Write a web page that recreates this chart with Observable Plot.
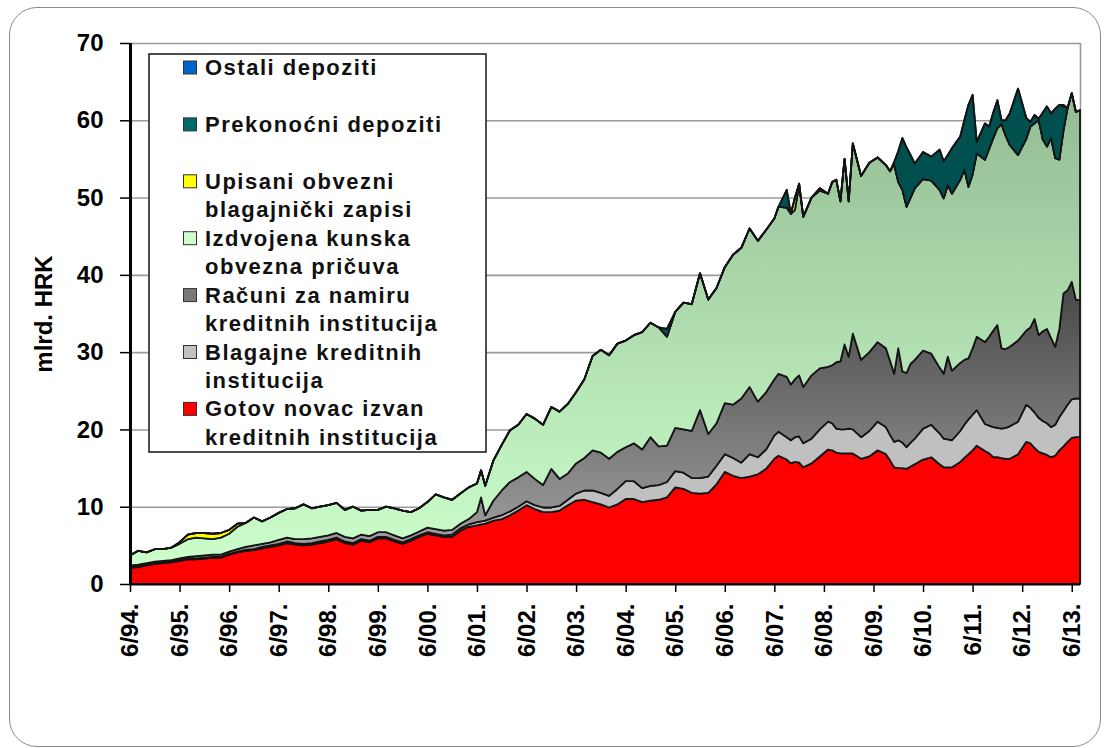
<!DOCTYPE html>
<html><head><meta charset="utf-8">
<script src="https://cdn.jsdelivr.net/npm/d3@7"></script>
<script src="https://cdn.jsdelivr.net/npm/@observablehq/plot@0.6"></script>
<style>
body{margin:0;background:#fff;}
#wrap{position:relative;width:1104px;height:748px;overflow:hidden;background:#fff;}
#frame{position:absolute;left:9px;top:7px;width:1092px;height:740px;border:1.5px solid #8a8a8a;border-radius:28px;box-sizing:border-box;}
#chart{position:absolute;left:0;top:0;}
</style></head><body>
<div id="wrap"><div id="frame"></div><div id="chart"></div></div>
<script>
// month index: 0 = 6/1994
const months = [0,2,4,6,8,10,12,14,16,18,20,22,24,26,28,30,32,34,36,38,40,42,44,46,48,50,52,54,56,58,60,62,64,66,68,70,72,74,76,78,80,82,84,85,86,88,90,92,94,96,98,100,102,104,106,108,110,112,114,116,118,120,122,124,126,128,130,132,134,136,138,140,142,144,146,148,150,152,154,156,157,159,160,161,162,163,165,167,169,170,171,172,173,174,175,177,179,181,183,184,185,186,187,188,189,190,192,194,196,197,198,199,201,202,203,204,205,207,208,209,210,211,212,213,215,217,218,219,220,221,222,223,224,225,226,227,228,229,230];

const gotovNovac = [2.1,2.2,2.4,2.6,2.7,2.8,3.0,3.2,3.2,3.3,3.4,3.4,3.8,4.1,4.3,4.4,4.6,4.8,5.0,5.3,5.1,5.0,5.1,5.3,5.5,5.8,5.3,5.1,5.6,5.4,5.9,5.9,5.5,5.2,5.6,6.1,6.5,6.3,6.1,6.1,6.9,7.4,7.6,
7.7,
7.8,8.2,8.4,8.9,9.5,10.2,9.7,9.3,9.3,9.5,10.2,10.8,10.9,10.6,10.3,9.9,10.3,11.0,11.0,10.6,10.8,10.9,11.2,12.5,12.3,11.8,11.7,11.8,12.9,14.5,14.0,13.7,13.9,14.2,14.9,16.2,
16.6,16.1,15.6,15.8,15.7,15.1,15.6,16.5,17.4,17.3,17.0,16.9,16.9,16.9,16.9,16.2,16.5,17.3,16.8,16.0,15.1,15.0,15.0,14.9,15.2,15.5,
16.1,16.4,15.5,15.1,15.1,15.1,15.8,16.3,16.8,17.3,17.9,17.2,16.9,16.4,16.4,16.3,16.2,16.2,16.8,18.4,18.2,17.6,17.1,16.9,16.7,16.4,16.6,17.3,17.8,18.4,18.9,19.0,19.0];

const blagajne = [0.1,0.1,0.1,0.1,0.1,0.1,0.1,0.1,0.1,0.1,0.1,0.1,0.1,0.1,0.1,0.1,
0.2,0.2,0.2,0.2,0.2,0.2,0.2,0.2,0.2,0.2,0.2,0.2,0.2,0.2,0.2,0.2,0.2,0.2,0.2,0.2,0.2,0.2,0.2,
0.3,0.3,0.3,0.4,
0.4,
0.4,0.4,0.5,0.5,0.5,0.5,0.5,0.6,0.6,0.6,0.7,0.9,1.2,1.5,1.5,1.5,2.0,2.3,2.3,1.8,1.9,1.9,2.0,2.1,2.1,1.9,2.0,2.1,2.4,2.3,2.3,2.0,2.9,2.2,2.5,3.0,
3.1,2.9,3.0,3.2,3.4,3.1,3.2,3.5,3.6,3.5,3.1,3.1,3.1,3.2,3.1,2.8,3.3,3.7,3.5,3.3,3.3,3.6,3.3,2.8,3.1,3.3,
4.0,4.2,4.0,3.7,3.6,3.5,4.0,4.3,4.5,4.6,4.6,3.5,3.6,3.9,3.8,3.8,4.0,4.2,4.2,4.8,4.6,4.6,4.4,4.2,4.1,3.9,4.0,4.3,4.6,4.8,5.0,5.0,5.0];

const racuniZaNamiru = [0.2,0.2,0.2,0.2,0.2,0.2,0.2,0.2,0.3,0.3,0.3,0.3,0.3,0.3,0.4,0.5,0.4,0.4,0.5,0.5,0.5,0.6,0.6,0.6,0.6,0.6,0.6,0.6,0.6,0.6,0.6,0.6,0.6,0.5,0.5,0.5,0.6,0.6,0.6,0.6,0.6,0.7,1.3,
3.1,
0.7,2.2,3.2,3.8,3.8,3.8,3.4,2.9,5.0,3.5,3.4,3.9,4.2,5.2,5.2,4.8,4.8,4.4,4.9,5.0,6.3,5.0,4.7,5.6,5.6,6.1,8.8,5.5,5.5,6.6,6.9,8.3,8.7,7.2,7.4,7.3,
7.5,7.8,7.2,7.5,7.9,7.3,8.2,7.9,7.1,7.5,8.6,8.8,11.0,9.3,12.4,10.0,10.2,10.3,10.2,9.6,8.8,11.9,9.2,9.6,10.2,10.2,
10.1,9.2,8.5,8.4,10.7,9.0,8.8,8.4,7.9,8.6,9.5,10.6,11.5,12.5,13.3,10.4,10.2,10.3,10.5,9.6,10.4,12.1,10.7,11.6,12.2,11.5,10.1,11.4,15.2,14.8,15.2,12.8,12.7];

const obveznaPricuva = [1.3,1.8,1.4,1.6,1.5,1.6,1.9,2.3,2.4,2.2,2.0,2.2,2.3,2.9,3.1,3.6,2.9,3.2,3.5,3.7,4.0,4.5,3.9,3.9,3.9,3.9,3.5,4.1,3.1,3.4,2.9,3.3,3.5,3.6,3.0,3.0,3.3,4.5,4.3,3.9,3.9,4.1,3.7,
3.5,
3.8,5.2,5.9,6.7,6.8,7.5,7.8,7.8,8.0,8.7,9.0,9.2,10.2,12.2,13.3,13.4,14.0,13.8,14.0,15.2,14.8,15.4,14.1,15.0,16.4,16.4,17.7,17.4,17.5,17.6,19.4,19.5,20.5,20.8,21.0,20.8,
21.6,21.9,22.1,21.9,24.6,22.0,23.0,23.0,22.4,23.7,23.6,20.7,24.0,20.1,24.6,23.8,24.5,23.9,23.7,24.5,27.1,21.5,23.5,21.5,21.5,22.2,
22.2,22.4,23.0,22.7,22.2,22.9,23.7,24.6,22.2,22.5,23.7,23.6,24.3,24.9,25.5,29.0,27.6,26.1,24.0,24.8,26.0,25.3,27.8,24.8,23.6,25.9,24.4,21.9,21.1,23.6,24.4,24.3,24.6];

// sparse series: [month index, value]; zero elsewhere
const upisaniZapisi = [[12,0.2],[14,0.6],[16,0.6],[18,0.7],[20,0.7],[22,0.6],[24,0.5],[26,0.4],[161,1.6],[162,0.2],[167,0.3]];
const prekonocniDepoziti = [[130,1.0],[159,2.3],[185,0.3],[186,4.0],[187,6.7],[188,7.7],[189,5.5],[190,3.2],[192,3.5],[194,3.1],[196,5.2],[197,4.8],[198,3.9],[199,5.9],[201,5.6],[202,6.4],[203,10.6],[204,10.3],[205,1.5],[207,4.7],[208,2.9],[209,3.3],[210,3.6],[211,0.5],[212,2.0],[213,4.1],[215,8.6],[217,2.7],[218,0.6],[219,1.1],[220,0.2],[221,3.5],[222,5.2],[223,3.2],[224,6.4],[225,7.1],[226,3.1]];
const ostaliDepoziti = [[226,0.2]];

const tickMonths = [0,12,24,36,48,60,72,84,96,108,120,132,144,156,168,180,192,204,216,228];
const tickLabels = ["6/94.","6/95.","6/96.","6/97.","6/98.","6/99.","6/00.","6/01.","6/02.","6/03.","6/04.","6/05.","6/06.","6/07.","6/08.","6/09.","6/10.","6/11.","6/12.","6/13."];
const yTicks = [0,10,20,30,40,50,60,70];

const seriesNames = ["Gotov novac izvan kreditnih institucija","Blagajne kreditnih institucija","Računi za namiru kreditnih institucija","Izdvojena kunska obvezna pričuva","Upisani obvezni blagajnički zapisi","Prekonoćni depoziti","Ostali depoziti"];
const seriesFills = ["#ff0000","#c0c0c0","url(#gGray)","url(#gGreen)","#ffff00","#00504f","#0066cc"];

const legendEntries = [
  {lines:["Ostali depoziti"], row:0, color:"#0066cc"},
  {lines:["Prekonoćni depoziti"], row:2, color:"#006a6a"},
  {lines:["Upisani obvezni","blagajnički zapisi"], row:4, color:"#ffff00"},
  {lines:["Izdvojena kunska","obvezna pričuva"], row:6, color:"#ccffcc"},
  {lines:["Računi za namiru","kreditnih institucija"], row:8, color:"#7a7a7a"},
  {lines:["Blagajne kreditnih","institucija"], row:10, color:"#c0c0c0"},
  {lines:["Gotov novac izvan","kreditnih institucija"], row:12, color:"#ff0000"}
];

const sparse = arr => new Map(arr);
const zMap = sparse(upisaniZapisi), pMap = sparse(prekonocniDepoziti), oMap = sparse(ostaliDepoziti);
const rows = [];
months.forEach((m, i) => {
  rows.push({m, s: seriesNames[0], v: gotovNovac[i]});
  rows.push({m, s: seriesNames[1], v: blagajne[i]});
  rows.push({m, s: seriesNames[2], v: racuniZaNamiru[i]});
  rows.push({m, s: seriesNames[3], v: obveznaPricuva[i]});
  rows.push({m, s: seriesNames[4], v: zMap.get(m) ?? 0});
  rows.push({m, s: seriesNames[5], v: pMap.get(m) ?? 0});
  rows.push({m, s: seriesNames[6], v: oMap.get(m) ?? 0});
});

const FONT = "'Liberation Sans', Arial, Helvetica, sans-serif";

const svg = Plot.plot({
  width: 1104, height: 748,
  marginLeft: 130, marginRight: 24, marginTop: 43, marginBottom: 164,
  x: {domain: [0, 230]},
  y: {domain: [0, 70]},
  color: {type: "ordinal", domain: seriesNames, range: seriesFills},
  style: {fontFamily: FONT, background: "transparent", overflow: "visible", color: "#000"},
  marks: [
    Plot.gridY(yTicks.slice(1), {stroke: "#9a9a9a", strokeOpacity: 1, strokeWidth: 1.6}),
    Plot.ruleX([230], {stroke: "#9a9a9a", strokeWidth: 1.6}),
    Plot.areaY(rows, {x: "m", y: "v", fill: "s", order: seriesNames, stroke: "#141414", strokeWidth: 1.8, strokeLinejoin: "round", curve: "linear"}),
    Plot.ruleX([0], {stroke: "#000", strokeWidth: 3}),
    Plot.ruleY([0], {stroke: "#000", strokeWidth: 2}),
    Plot.axisY({ticks: yTicks, tickSize: 10, tickPadding: 17, fontSize: 24, fontWeight: "bold", label: null, strokeWidth: 1.5}),
    Plot.axisX({ticks: tickMonths, tickFormat: d => tickLabels[tickMonths.indexOf(d)], tickRotate: -90, tickSize: 8, tickPadding: 11, fontSize: 24, fontWeight: "bold", label: null, strokeWidth: 1.5}),
    Plot.text(["mlrd. HRK"], {frameAnchor: "left", dx: -86, rotate: -90, fontSize: 24, fontWeight: "bold", textAnchor: "middle"})
  ]
});

const s = d3.select(svg);
const defs = s.insert("defs", ":first-child");
const g1 = defs.append("linearGradient").attr("id", "gGreen").attr("x1", 0).attr("y1", 0).attr("x2", 0).attr("y2", 1);
g1.append("stop").attr("offset", "0%").attr("stop-color", "#93bb93");
g1.append("stop").attr("offset", "100%").attr("stop-color", "#ccffcc");
const g2 = defs.append("linearGradient").attr("id", "gGray").attr("x1", 0).attr("y1", 0).attr("x2", 0).attr("y2", 1);
g2.append("stop").attr("offset", "0%").attr("stop-color", "#474747");
g2.append("stop").attr("offset", "100%").attr("stop-color", "#a6a6a6");

// legend inside the plot area
const lg = s.append("g").attr("font-family", FONT).attr("font-weight", "bold").attr("font-size", 22).attr("text-anchor", "start");
lg.append("rect").attr("x", 149).attr("y", 54).attr("width", 337).attr("height", 398)
  .attr("fill", "#fff").attr("stroke", "#222").attr("stroke-width", 1.6);
const pitch = 28.45, base0 = 75;
legendEntries.forEach(e => {
  const yb = base0 + e.row * pitch;
  lg.append("rect").attr("x", 183.5).attr("y", yb - 14).attr("width", 13).attr("height", 13)
    .attr("fill", e.color).attr("stroke", "#333").attr("stroke-width", 1);
  e.lines.forEach((t, j) => {
    lg.append("text").attr("x", 205).attr("y", yb + j * pitch).attr("letter-spacing", "1.5px")
      .attr("text-anchor", "start").attr("fill", "#111").text(t);
  });
});

document.getElementById("chart").appendChild(svg);
</script>
</body></html>
